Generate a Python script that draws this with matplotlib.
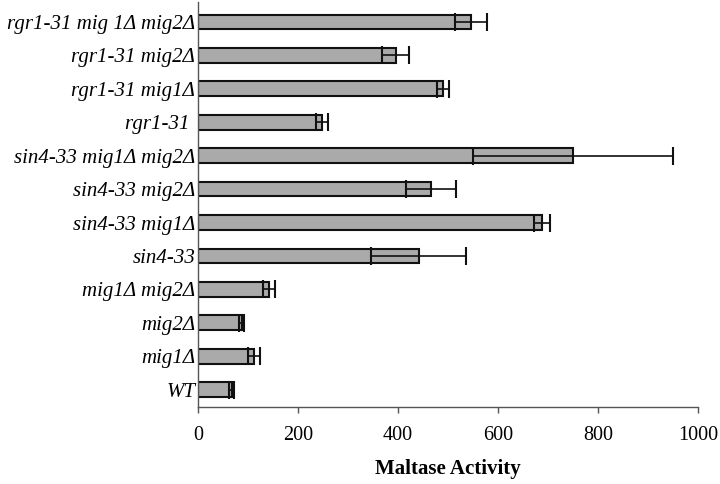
import matplotlib
matplotlib.use("Agg")
import matplotlib.pyplot as plt
import numpy as np

strains = ["WT", "mig1Δ", "mig2Δ", "mig1Δ mig2Δ", "sin4-33", "sin4-33 mig1Δ",
           "sin4-33 mig2Δ", "sin4-33 mig1Δ mig2Δ", "rgr1-31 ", "rgr1-31 mig1Δ",
           "rgr1-31 mig2Δ", "rgr1-31 mig 1Δ mig2Δ"]
activity = [68, 112, 88, 142, 442, 688, 466, 750, 249, 490, 396, 546]
errors = [5, 12, 5, 12, 95, 16, 50, 200, 12, 12, 27, 32]
xticks = [0, 200, 400, 600, 800, 1000]

fig = plt.figure(figsize=(7.2, 4.84), dpi=100)
ax = fig.add_axes([0.275, 0.159, 0.6944, 0.837])
y = np.arange(len(strains))
ax.barh(y, activity, height=0.44, color="#aaaaaa", edgecolor="#111111", linewidth=1.5,
        zorder=2)
ax.errorbar(activity, y, xerr=errors, fmt="none", ecolor="#111111", elinewidth=1.2,
            capsize=6.5, capthick=1.5, zorder=3)
ax.set_xlim(0, 1000)
ax.set_ylim(-0.52, 11.6)
ax.set_yticks(y)
ax.set_yticklabels(strains, family="Liberation Serif", style="italic", fontsize=15)
ax.set_xticks(xticks)
ax.set_xticklabels([str(t) for t in xticks], family="Liberation Serif", fontsize=14.5)
ax.tick_params(axis="y", length=0, pad=2)
ax.tick_params(axis="x", direction="out", length=4, width=1, color="#555555", pad=10)
for s in ["top", "right"]:
    ax.spines[s].set_visible(False)
for s in ["left", "bottom"]:
    ax.spines[s].set_color("#555555")
    ax.spines[s].set_linewidth(1.0)
ax.set_xlabel("Maltase Activity", family="Liberation Serif", fontweight="bold",
              fontsize=15, labelpad=10)
fig.savefig("out.png", dpi=100)
